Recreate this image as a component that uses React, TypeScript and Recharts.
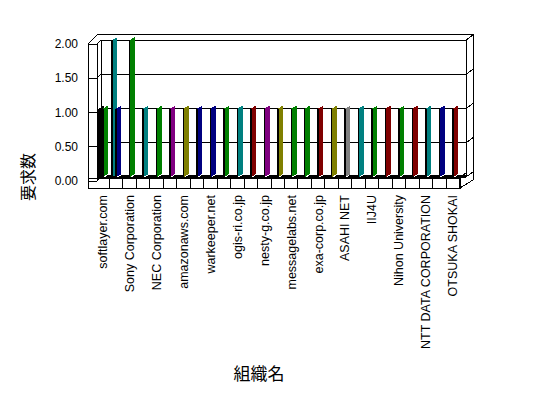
import React from "react";
import { BarChart, Bar, XAxis, YAxis, Cell } from "recharts";

// organisations, only every other slot carries a visible label
const ORG_LABELS = [
  "softlayer.com",
  "Sony Corporation",
  "NEC Corporation",
  "amazonaws.com",
  "warkeeper.net",
  "ogis-ri.co.jp",
  "nesty-g.co.jp",
  "messagelabs.net",
  "exa-corp.co.jp",
  "ASAHI NET",
  "IIJ4U",
  "Nihon University",
  "NTT DATA CORPORATION",
  "OTSUKA SHOKAI",
];

// request counts per slot (front bar and the one standing just behind it)
const MAIN_VALUES = [1, 1, 2, 1, 1, 1, 1, 1, 1, 1, 1, 1, 1, 1, 1, 1, 1, 1, 1, 1, 1, 1, 1, 1, 1, 1, 1, 0];
const BACK_VALUES = [1, 2, 0, 0, 0, 0, 0, 0, 0, 0, 0, 0, 0, 0, 0, 0, 0, 0, 0, 0, 0, 0, 0, 0, 0, 0, 0, 0];

const C = {
  black: "#000000",
  green: "#008000",
  teal: "#008080",
  navy: "#000080",
  purple: "#800080",
  olive: "#808000",
  red: "#800000",
  gray: "#808080",
};

const MAIN_COLORS = [
  C.green, C.navy, C.green, C.teal, C.green, C.purple, C.olive, C.navy,
  C.navy, C.green, C.teal, C.red, C.purple, C.olive, C.green, C.green,
  C.red, C.olive, C.gray, C.teal, C.green, C.red, C.green, C.red,
  C.teal, C.navy, C.red, C.red,
];
const BACK_COLORS = [C.black, C.teal, ...Array(26).fill(C.black)];

const Y_TICKS = [0, 0.5, 1, 1.5, 2];
const Y_MAX = 2;

const data = MAIN_VALUES.map((v, i) => ({ slot: i, main: v, back: BACK_VALUES[i] }));

const W = 548;
const H = 398;
const PLOT = { x: 96, y: 40, w: 377, h: 137 };
const LATIN = "'Liberation Sans', Arial, sans-serif";
const CJK = "'Noto Sans CJK JP', sans-serif";

function Bar3D(props: any) {
  const { x, y, width, height, fill } = props;
  if (!height || height <= 0) return <g />;
  const s = 3;
  return (
    <g shapeRendering="crispEdges">
      <polygon
        points={`${x + 1},${y + height} ${x + 1},${y} ${x + width},${y - s} ${x + width},${y + height - s}`}
        fill={fill}
      />
      <rect x={x} y={y} width={1.5} height={height} fill="#000" />
    </g>
  );
}

function XTick(props: any) {
  const { x, y, payload } = props;
  const label = ORG_LABELS[payload.value / 2];
  if (label === undefined) return null;
  return (
    <text
      x={x}
      y={y}
      transform={`rotate(-90 ${x} ${y})`}
      textAnchor="end"
      dy="0.35em"
      fontFamily={LATIN}
      fontSize={12.5}
      fill="#000"
    >
      {label}
    </text>
  );
}

function YTick(props: any) {
  const { x, y, payload } = props;
  return (
    <text x={x} y={y + 4} textAnchor="end" dy="0.35em" fontFamily={LATIN} fontSize={12} fill="#000">
      {Number(payload.value).toFixed(2)}
    </text>
  );
}

function Frame() {
  const X0 = PLOT.x;
  const X1 = PLOT.x + PLOT.w;
  const Y0 = PLOT.y;
  const Y1 = PLOT.y + PLOT.h;
  const xl = X0 - 8;
  const xm = X0 + 1;
  const xb = X0 + 5;
  const xr = X1 - 7;
  const xf = X1 - 13;
  const slot = PLOT.w / MAIN_VALUES.length;
  const line = { stroke: "#000", strokeWidth: 1, fill: "none" };
  return (
    <svg width={W} height={H} style={{ position: "absolute", left: 0, top: 0 }} shapeRendering="crispEdges">
      <rect x={0} y={0} width={W} height={H} fill="#fff" />
      {Y_TICKS.map((v) => {
        const yb = Y1 - (v / Y_MAX) * PLOT.h;
        return (
          <polyline
            key={v}
            points={`${xl},${yb + 4} ${xm},${yb + 4} ${xb},${yb} ${xr},${yb} ${X1},${yb - 5}`}
            {...line}
          />
        );
      })}
      <polyline points={`${xl},${Y0 + 4} ${X0 + 2},${Y0 - 6} ${X1},${Y0 - 6}`} {...line} />
      <line x1={xl} y1={Y0 + 4} x2={xl} y2={Y1 + 11} {...line} />
      <line x1={xm} y1={Y0 + 4} x2={xm} y2={Y1 + 4} {...line} />
      <line x1={xb} y1={Y0} x2={xb} y2={Y1} {...line} />
      <line x1={xr} y1={Y0} x2={xr} y2={Y1} {...line} />
      <line x1={X1} y1={Y0 - 6} x2={X1} y2={Y1 + 3} {...line} />
      {/* floor */}
      <rect x={xm} y={Y1 - 2} width={xr - xm} height={3} fill="#000" />
      {MAIN_VALUES.map((_, k) => (
        <line
          key={k}
          x1={X0 + k * slot + 8}
          y1={Y1}
          x2={X0 + k * slot + 11}
          y2={Y1 - 2}
          stroke="#fff"
        />
      ))}
      <rect x={xl} y={Y1 + 1} width={xf - xl} height={10} {...line} />
      {MAIN_VALUES.map((_, k) =>
        k === 0 ? null : (
          <line key={k} x1={X0 + k * slot} y1={Y1 + 1} x2={X0 + k * slot} y2={Y1 + 11} {...line} />
        )
      )}
      <line x1={xf} y1={Y1 + 11} x2={X1} y2={Y1 + 3} {...line} />
      <line x1={xf} y1={Y1 + 1} x2={xr + 1} y2={Y1 - 5} {...line} />
      <text
        x={28}
        y={177}
        transform="rotate(-90 28 177)"
        textAnchor="middle"
        dy="0.35em"
        fontFamily={CJK}
        fontSize={16}
        fill="#000"
      >
        要求数
      </text>
      <text x={259} y={374} textAnchor="middle" dy="0.35em" fontFamily={CJK} fontSize={17} fill="#000">
        組織名
      </text>
    </svg>
  );
}

export default function App() {
  return (
    <div style={{ position: "absolute", left: 0, top: 0, width: W, height: H, background: "#fff" }}>
      <Frame />
      <div style={{ position: "absolute", left: 0, top: 0 }}>
        <BarChart
          width={W}
          height={H}
          data={data}
          margin={{ top: PLOT.y, left: PLOT.x - 60, right: W - PLOT.x - PLOT.w, bottom: H - PLOT.y - PLOT.h - 150 }}
          barGap={-2}
          barCategoryGap={0}
        >
          <XAxis
            dataKey="slot"
            type="category"
            height={150}
            interval={1}
            axisLine={false}
            tickLine={false}
            tickSize={0}
            tickMargin={18}
            tick={<XTick />}
          />
          <YAxis
            width={60}
            domain={[0, Y_MAX]}
            ticks={Y_TICKS}
            axisLine={false}
            tickLine={false}
            tickSize={0}
            tickMargin={18}
            tick={<YTick />}
          />
          <Bar dataKey="back" barSize={6} isAnimationActive={false} shape={<Bar3D />}>
            {data.map((_, i) => (
              <Cell key={i} fill={BACK_COLORS[i]} />
            ))}
          </Bar>
          <Bar dataKey="main" barSize={6} isAnimationActive={false} shape={<Bar3D />}>
            {data.map((_, i) => (
              <Cell key={i} fill={MAIN_COLORS[i]} />
            ))}
          </Bar>
        </BarChart>
      </div>
    </div>
  );
}
